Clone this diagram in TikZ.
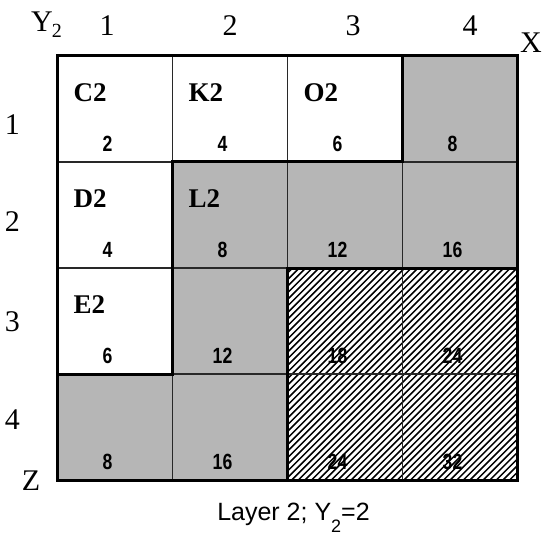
\documentclass[tikz,border=0pt]{standalone}
\usepackage{fontspec}
\setmainfont{Liberation Serif}
\newfontfamily\numfont[FakeStretch=0.8]{Liberation Sans}
\newfontfamily\capfont{Liberation Sans}
\definecolor{cellgray}{RGB}{182,182,182}
\definecolor{gridline}{RGB}{40,40,40}
\begin{document}
\begin{tikzpicture}[x=1pt,y=-1pt,
  cell/.style={draw=gridline,line width=1.1pt,minimum width=115pt,minimum height=106pt,inner sep=0pt,outer sep=0pt},
  whitecell/.style={cell,fill=white},
  graycell/.style={cell,fill=cellgray},
  hatchcell/.style={cell},
  thickline/.style={line width=3pt,line join=miter,black},
  hatchline/.style={line width=1.5pt,black},
  letter/.style={anchor=west,inner sep=0pt,font=\fontsize{27}{27}\selectfont\bfseries},
  num/.style={inner sep=0pt,font=\numfont\fontsize{22}{22}\selectfont\bfseries},
  axislabel/.style={inner sep=0pt,font=\fontsize{30}{30}\selectfont},
]
\useasboundingbox (0,0) rectangle (543,537);
\fill[white] (0,0) rectangle (543,537);

% hatching of the lower-right block
\begin{scope}
  \clip (287.5,268) rectangle (517.5,480);
  \foreach \k in {0,...,68} {
    \draw[hatchline] (72+\k*6.6,482) -- ++(250,-250);
  }
\end{scope}

% cells: c<col><row>
\foreach \c in {1,...,4} {
  \foreach \r in {1,...,4} {
    \pgfmathsetmacro{\cx}{57.5+115*(\c-1)+57.5}
    \pgfmathsetmacro{\cy}{56+106*(\r-1)+53}
    \ifnum\c\r=11 \def\st{whitecell}\fi
    \ifnum\c\r=21 \def\st{whitecell}\fi
    \ifnum\c\r=31 \def\st{whitecell}\fi
    \ifnum\c\r=12 \def\st{whitecell}\fi
    \ifnum\c\r=13 \def\st{whitecell}\fi
    \ifnum\c\r=41 \def\st{graycell}\fi
    \ifnum\c\r=22 \def\st{graycell}\fi
    \ifnum\c\r=32 \def\st{graycell}\fi
    \ifnum\c\r=42 \def\st{graycell}\fi
    \ifnum\c\r=23 \def\st{graycell}\fi
    \ifnum\c\r=14 \def\st{graycell}\fi
    \ifnum\c\r=24 \def\st{graycell}\fi
    \ifnum\c\r=33 \def\st{hatchcell}\fi
    \ifnum\c\r=43 \def\st{hatchcell}\fi
    \ifnum\c\r=34 \def\st{hatchcell}\fi
    \ifnum\c\r=44 \def\st{hatchcell}\fi
    \node[\st] (c\c\r) at (\cx,\cy) {};
  }
}

% thick boundaries
\draw[thickline] (c11.north west) rectangle (c44.south east);
\draw[thickline] (c41.north west) -- (c41.south west) -- (c22.north west)
  -- (c23.south west) -- (c14.north west);
\draw[thickline] (c33.north west) rectangle (c44.south east);

% letters
\node[letter] (tC2) at ([shift={(16,37)}]c11.north west) {C2};
\node[letter] (tK2) at ([shift={(16,37)}]c21.north west) {K2};
\node[letter] (tO2) at ([shift={(16,37)}]c31.north west) {O2};
\node[letter] (tD2) at ([shift={(16,37)}]c12.north west) {D2};
\node[letter] (tL2) at ([shift={(16,37)}]c22.north west) {L2};
\node[letter] (tE2) at ([shift={(16,37)}]c13.north west) {E2};

% numbers
\foreach \c/\r/\v in {1/1/2,2/1/4,3/1/6,4/1/8,
                      1/2/4,2/2/8,3/2/12,4/2/16,
                      1/3/6,2/3/12,3/3/18,4/3/24,
                      1/4/8,2/4/16,3/4/24,4/4/32} {
  \node[num] (n\c\r) at ([shift={(50,88)}]c\c\r.north west) {\v};
}

% axis labels
\node[axislabel,anchor=base west] (ylab) at (31,32)
  {Y\kern-1pt\raisebox{-6pt}{\fontsize{20}{20}\selectfont 2}};
\node[axislabel] (col1) at (107,26) {1};
\node[axislabel] (col2) at (230,26) {2};
\node[axislabel] (col3) at (353,26) {3};
\node[axislabel] (col4) at (470,26) {4};
\node[axislabel] (xlab) at (531,43) {X};
\node[axislabel] (row1) at (12.5,125) {1};
\node[axislabel] (row2) at (12.5,222) {2};
\node[axislabel] (row3) at (12.5,322) {3};
\node[axislabel] (row4) at (12.5,420) {4};
\node[axislabel] (zlab) at (31,481) {Z};

% caption
\node[inner sep=0pt,anchor=base,font=\capfont\fontsize{25}{25}\selectfont] (caption) at (293.5,520)
  {Layer 2; Y\raisebox{-12pt}{\fontsize{18}{18}\selectfont 2}=2};
\end{tikzpicture}
\end{document}
